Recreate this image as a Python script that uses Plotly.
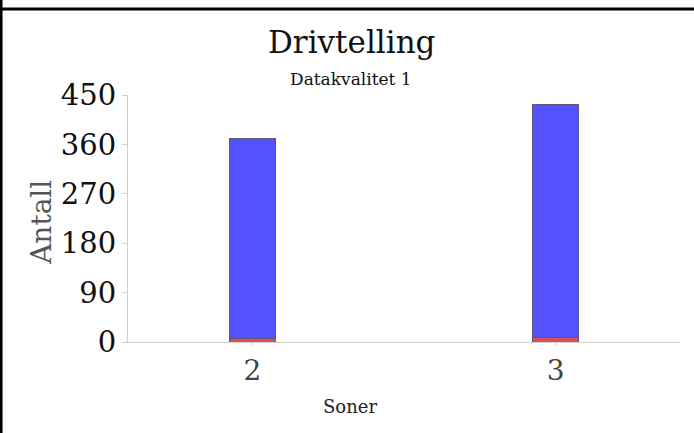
import plotly.graph_objects as go

# Data
soner = ['2', '3']
antall_rod = [7, 8]
antall_bla = [363, 425]
y_ticks = [0, 90, 180, 270, 360, 450]

FONT = 'DejaVu Serif'

trace_rod = go.Bar(x=soner, y=antall_rod, name='Rød', width=0.15,
                   marker=dict(color='rgb(225,75,85)',
                               line=dict(color='rgb(90,90,110)', width=1)))
trace_bla = go.Bar(x=soner, y=antall_bla, name='Blå', width=0.15,
                   marker=dict(color='rgb(82,82,255)',
                               line=dict(color='rgb(90,90,110)', width=1)))

layout = go.Layout(
    width=694, height=433,
    barmode='stack', showlegend=False,
    paper_bgcolor='white', plot_bgcolor='white',
    margin=dict(l=128, r=14, t=95, b=91),
    font=dict(family=FONT, color='#222'),
    xaxis=dict(type='category', range=[-0.41, 1.41], showgrid=False,
               showline=True, linecolor='#d0d0d0', linewidth=1,
               ticks='outside', ticklen=3, tickcolor='#d0d0d0',
               tickfont=dict(family=FONT, size=28, color='#444')),
    yaxis=dict(range=[0, 450], tickvals=y_ticks, showgrid=False,
               zeroline=False, showline=True, linecolor='#d0d0d0',
               linewidth=1, ticks='outside', ticklen=5, tickcolor='#d0d0d0',
               tickfont=dict(family=FONT, size=29, color='#111')),
    annotations=[
        dict(text='Drivtelling', xref='paper', yref='paper', x=0.404, y=1.214,
             xanchor='center', yanchor='middle', showarrow=False,
             font=dict(family=FONT, size=31, color='#111')),
        dict(text='Datakvalitet 1', xref='paper', yref='paper', x=0.404, y=1.065,
             xanchor='center', yanchor='middle', showarrow=False,
             font=dict(family=FONT, size=17, color='#111')),
        dict(text='Antall', xref='paper', yref='paper', x=-0.156, y=0.486,
             xanchor='center', yanchor='middle', textangle=-90, showarrow=False,
             font=dict(family=FONT, size=28, color='#555')),
        dict(text='Soner', xref='paper', yref='paper', x=0.402, y=-0.263,
             xanchor='center', yanchor='middle', showarrow=False,
             font=dict(family=FONT, size=18, color='#222')),
    ],
    shapes=[
        # black frame edges seen in the reference (top and left)
        dict(type='line', xref='paper', yref='paper', x0=-0.232, x1=1.03,
             y0=1.348, y1=1.348, line=dict(color='black', width=3)),
        dict(type='line', xref='paper', yref='paper', x0=-0.230, x1=-0.230,
             y0=-0.38, y1=1.39, line=dict(color='black', width=3)),
    ],
)

fig = go.Figure(data=[trace_rod, trace_bla], layout=layout)
# drop the default page margin so the figure sits at the window's corner
fig.write_html('out.html', config={'displayModeBar': False},
               post_script="document.body.style.margin='0';")
